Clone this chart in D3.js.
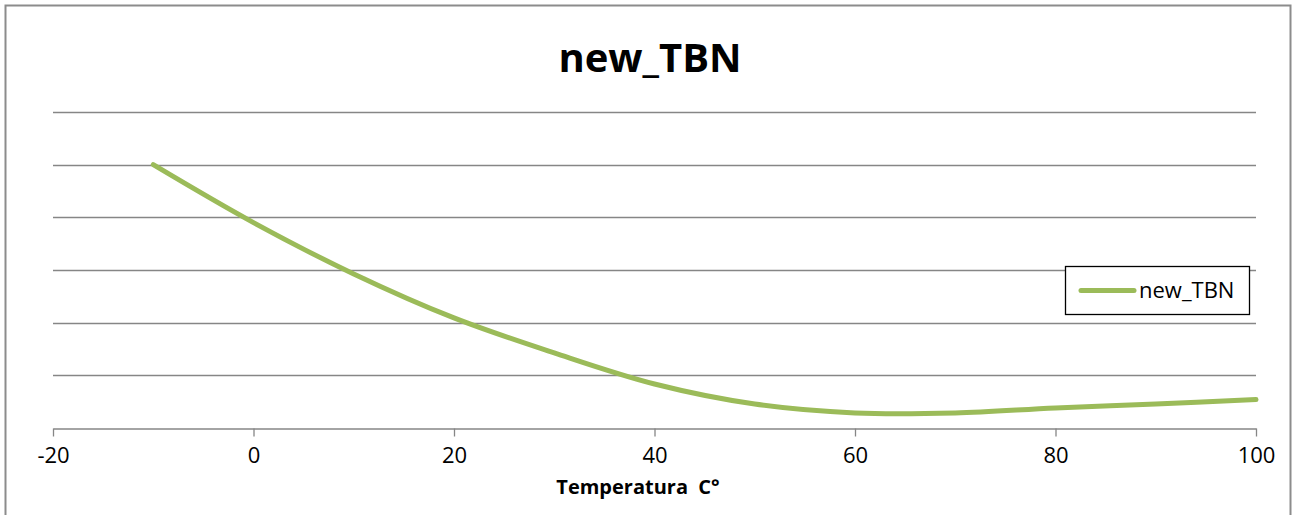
<!DOCTYPE html>
<html>
<head>
<meta charset="utf-8">
<script src="https://cdn.jsdelivr.net/npm/d3@7"></script>
<style>
  body { margin: 0; background: #fff; }
  svg { display: block; font-family: "Open Sans", sans-serif; }
</style>
</head>
<body>
<svg id="chart" width="1295" height="515"></svg>
<script>
// values (y axis is unlabeled, arbitrary units)
const temps = [-10, 0, 10, 20, 30, 40, 50, 60, 70, 80, 90, 100];
const tbn = [10, 7.8, 5.85, 4.18, 2.85, 1.67, 0.91, 0.57, 0.57, 0.76, 0.91, 1.08];
const xTicks = [-20, 0, 20, 40, 60, 80, 100];
const yTicks = [0, 2, 4, 6, 8, 10, 12];

const svg = d3.select("#chart");
const green = "#9bbb59";
const grey = "#868686";

// outer frame
svg.append("rect")
  .attr("x", 5.5).attr("y", 5.5)
  .attr("width", 1285).attr("height", 520)
  .attr("fill", "none").attr("stroke", "#8c8c8c").attr("stroke-width", 2);

const x = d3.scaleLinear().domain([-20, 100]).range([53, 1256]);
const y = d3.scaleLinear().domain([0, 12]).range([428, 112]);

// horizontal gridlines
svg.append("g")
  .selectAll("line")
  .data(yTicks.filter(d => d > 0))
  .join("line")
  .attr("x1", x(-20)).attr("x2", x(100))
  .attr("y1", d => Math.round(y(d)) + 0.5)
  .attr("y2", d => Math.round(y(d)) + 0.5)
  .attr("stroke", grey).attr("stroke-width", 1.3);

// x axis
const ax = svg.append("g")
  .attr("transform", `translate(0,${Math.round(y(0)) + 0.5})`)
  .call(d3.axisBottom(x)
    .tickValues(xTicks)
    .tickFormat(d => String(d))
    .tickSize(8).tickPadding(11).tickSizeOuter(0));
ax.select(".domain").attr("stroke", grey).attr("stroke-width", 1.3);
ax.selectAll(".tick line").attr("stroke", grey).attr("stroke-width", 1.3);
ax.selectAll(".tick text")
  .attr("fill", "#000")
  .style("font-family", "Open Sans")
  .style("font-size", "22px");

// line
svg.append("path")
  .datum(temps.map((t, i) => [t, tbn[i]]))
  .attr("fill", "none")
  .attr("stroke", green)
  .attr("stroke-width", 5)
  .attr("stroke-linecap", "round")
  .attr("d", d3.line()
    .x(d => x(d[0]))
    .y(d => y(d[1]))
    .curve(d3.curveCatmullRom.alpha(0.5)));

// title
svg.append("text")
  .attr("x", 650).attr("y", 72)
  .attr("text-anchor", "middle")
  .style("font-size", "40px").style("font-weight", "bold")
  .text("new_TBN");

// axis title
svg.append("text")
  .attr("x", 638).attr("y", 494)
  .attr("text-anchor", "middle")
  .style("font-size", "20px").style("font-weight", "bold")
  .style("white-space", "pre")
  .text("Temperatura  C°");

// legend
const lg = svg.append("g");
lg.append("rect")
  .attr("x", 1065.5).attr("y", 266.5)
  .attr("width", 184).attr("height", 48)
  .attr("fill", "#fff").attr("stroke", "#000").attr("stroke-width", 1.3);
lg.append("line")
  .attr("x1", 1081).attr("x2", 1134)
  .attr("y1", 290.5).attr("y2", 290.5)
  .attr("stroke", green).attr("stroke-width", 5).attr("stroke-linecap", "round");
lg.append("text")
  .attr("x", 1139).attr("y", 298)
  .style("font-size", "22px")
  .text("new_TBN");
</script>
</body>
</html>
